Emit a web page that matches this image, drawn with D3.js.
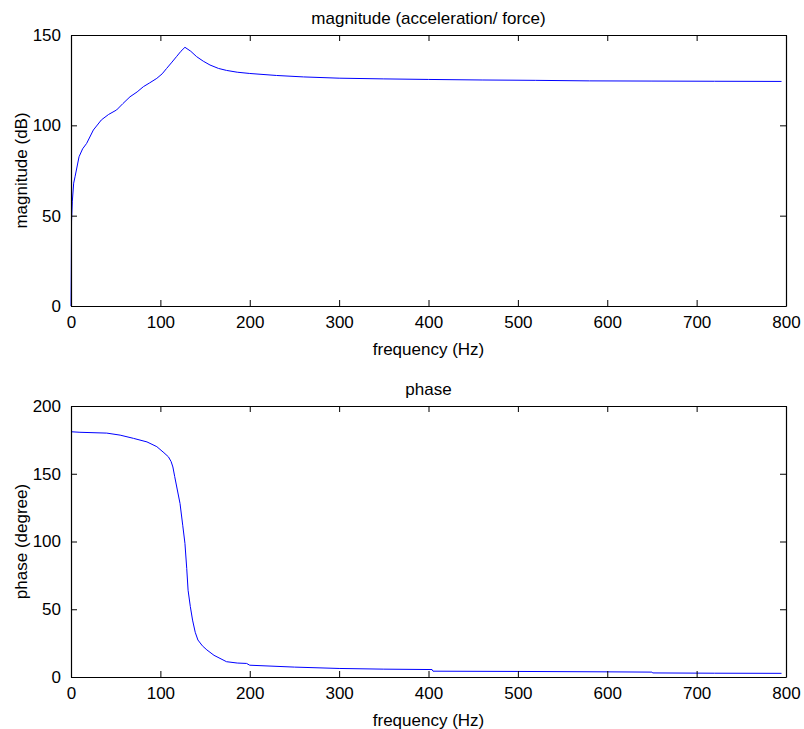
<!DOCTYPE html>
<html>
<head>
<meta charset="utf-8">
<script src="https://cdn.jsdelivr.net/npm/d3@7"></script>
<style>
  body { margin: 0; background: #fff; }
  text { font-family: "Liberation Sans", Arial, sans-serif; fill: #000; }
</style>
</head>
<body>
<svg id="chart"></svg>
<script>
// frequency response
const magFreq = [0, 0.3, 0.6, 1.5, 3, 4.5, 9, 13, 17.5, 25, 34, 42, 51, 58, 66, 74, 81, 88, 96, 102, 107, 113, 118, 123, 127.5, 134, 140.6, 148, 155.5, 165, 174, 186, 200, 230, 260, 300, 350, 400, 460, 520, 580, 650, 720, 795];
const magDb = [0, 20, 47, 58, 68, 71.5, 82.6, 87, 90, 97.4, 103, 106, 108.5, 112, 115.8, 118.5, 121.4, 123.5, 126, 128.5, 131.5, 135, 138, 141, 143.2, 141, 138, 135.5, 133.4, 131.5, 130.4, 129.4, 128.7, 127.6, 126.8, 126.1, 125.7, 125.4, 125.1, 124.9, 124.6, 124.5, 124.4, 124.3];

const phFreq = [0, 10, 40, 55, 70, 85, 96, 104, 109, 112, 114, 116, 119, 122, 125, 127.5, 129.5, 131, 133.5, 136, 139, 142, 147, 152, 160, 174, 186, 196.5, 200, 250, 300, 350, 404, 405, 500, 600, 650, 651, 720, 795];
const phDeg = [181, 180.6, 180, 178.5, 176.1, 173.5, 170, 165.5, 162.5, 159, 155, 148, 138, 128, 112, 98.6, 80, 64, 52, 42, 33, 27.3, 23, 20, 16, 11.3, 10.3, 10, 8.7, 7.3, 6.3, 5.8, 5.5, 4.3, 4.1, 3.8, 3.6, 3, 2.8, 2.7];

const xTicks = [0, 100, 200, 300, 400, 500, 600, 700, 800];
const magTicks = [0, 50, 100, 150];
const phTicks = [0, 50, 100, 150, 200];

const WIDTH = 804, HEIGHT = 729;
const LEFT = 71, RIGHT = 786;
const FONT = 17;
const TICK = 6;

const svg = d3.select("#chart").attr("width", WIDTH).attr("height", HEIGHT);

const x = d3.scaleLinear().domain([0, 800]).range([LEFT, RIGHT]);

function panel(top, bottom, yMax, ticks, freq, vals, title, ylabel) {
    const y = d3.scaleLinear().domain([0, yMax]).range([bottom, top]);
    const g = svg.append("g");

    // the curve
    const line = d3.line().x((d, i) => x(freq[i])).y(d => y(d));
    g.append("path")
        .datum(vals)
        .attr("fill", "none")
        .attr("stroke", "#0000ff")
        .attr("stroke-width", 1)
        .attr("d", line);

    // box with inward ticks on all four sides
    const bottomAxis = d3.axisBottom(x).tickValues(xTicks).tickSizeInner(-TICK).tickSizeOuter(0).tickPadding(10);
    const topAxis = d3.axisTop(x).tickValues(xTicks).tickSizeInner(-TICK).tickSizeOuter(0).tickFormat("");
    const leftAxis = d3.axisLeft(y).tickValues(ticks).tickSizeInner(-TICK).tickSizeOuter(0).tickPadding(10);
    const rightAxis = d3.axisRight(y).tickValues(ticks).tickSizeInner(-TICK).tickSizeOuter(0).tickFormat("");

    g.append("g").attr("transform", `translate(0,${bottom})`).call(bottomAxis);
    g.append("g").attr("transform", `translate(0,${top})`).call(topAxis);
    g.append("g").attr("transform", `translate(${LEFT},0)`).call(leftAxis);
    g.append("g").attr("transform", `translate(${RIGHT},0)`).call(rightAxis);

    g.selectAll(".domain").attr("stroke", "#000").attr("stroke-width", 1.2);
    g.selectAll(".tick line").attr("stroke", "#000");
    g.selectAll(".tick text")
        .style("font-family", '"Liberation Sans", Arial, sans-serif')
        .style("font-size", FONT + "px")
        .attr("fill", "#000");

    g.append("text")
        .attr("x", (LEFT + RIGHT) / 2)
        .attr("y", top - 11)
        .attr("text-anchor", "middle")
        .style("font-size", FONT + "px")
        .text(title);

    g.append("text")
        .attr("x", (LEFT + RIGHT) / 2)
        .attr("y", bottom + 49)
        .attr("text-anchor", "middle")
        .style("font-size", FONT + "px")
        .text("frequency (Hz)");

    g.append("text")
        .attr("transform", `translate(27,${(top + bottom) / 2}) rotate(-90)`)
        .attr("text-anchor", "middle")
        .style("font-size", FONT + "px")
        .text(ylabel);
}

panel(35, 306, 150, magTicks, magFreq, magDb, "magnitude (acceleration/ force)", "magnitude (dB)");
panel(406, 677, 200, phTicks, phFreq, phDeg, "phase", "phase (degree)");
</script>
</body>
</html>
